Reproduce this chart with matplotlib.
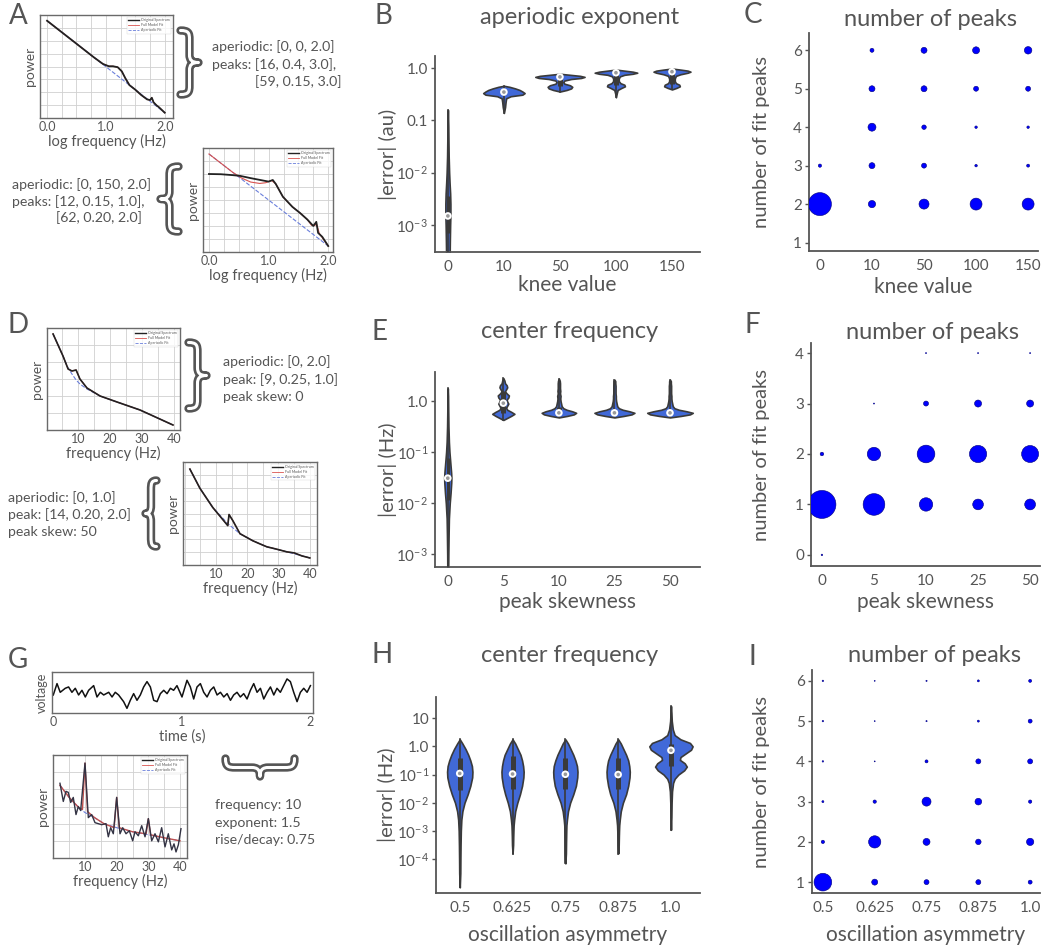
import numpy as np
import matplotlib
matplotlib.use('Agg')
import matplotlib.pyplot as plt
from matplotlib.path import Path
from matplotlib.patches import PathPatch
from matplotlib.lines import Line2D
from matplotlib.ticker import MultipleLocator, NullLocator, LinearLocator

plt.rcParams['font.family'] = ['Lato', 'DejaVu Sans']
plt.rcParams['mathtext.fontset'] = 'custom'
plt.rcParams['mathtext.rm'] = 'Lato'
plt.rcParams['mathtext.it'] = 'Lato:italic'
plt.rcParams['mathtext.bf'] = 'Lato:bold'

# ------------------------------------------------------------------ data
# Panel A: example spectra (log10 frequency, log10 power)
A1_logf = [0.0, 0.2, 0.4, 0.6, 0.8, 0.95, 1.05, 1.12, 1.2, 1.27, 1.33, 1.4, 1.5, 1.6, 1.7, 1.75, 1.78, 1.81, 1.86, 1.9, 2.0]
A1_orig = [0.0, -0.4, -0.8, -1.2, -1.6, -1.88, -1.98, -1.98, -2.02, -2.2, -2.5, -2.8, -3.0, -3.23, -3.42, -3.45, -3.35, -3.55, -3.68, -3.76, -4.0]
A1_ap_f = [0.0, 2.0]
A1_ap = [0.0, -4.0]

A2_logf = [0.0, 0.2, 0.4, 0.52, 0.7, 0.9, 1.0, 1.07, 1.12, 1.24, 1.4, 1.53, 1.65, 1.75, 1.8, 1.83, 1.9, 2.0]
A2_orig = [-0.87, -0.88, -0.92, -0.95, -1.05, -1.15, -1.2, -1.13, -1.3, -1.86, -2.3, -2.57, -2.85, -3.13, -2.95, -3.43, -3.6, -4.0]
A2_fit_f = [0.0, 0.2, 0.4, 0.55, 0.7, 0.85, 0.95, 1.05, 1.12, 1.24, 1.4, 1.53, 1.65, 1.72, 1.78, 1.8, 1.85, 2.0]
A2_fit = [0.0, -0.4, -0.8, -1.05, -1.22, -1.28, -1.25, -1.15, -1.3, -1.86, -2.3, -2.57, -2.85, -3.1, -3.1, -3.0, -3.45, -4.0]
A2_ap_f = [0.0, 2.0]
A2_ap = [0.0, -4.0]

# Panel D: example spectra (frequency Hz, relative log power)
D1_f = [2.2, 5.3, 6.9, 8.1, 9.4, 10.6, 12.8, 16.9, 22.2, 29.4, 39.7]
D1_orig = [0.96, 0.74, 0.61, 0.59, 0.60, 0.51, 0.42, 0.34, 0.28, 0.20, 0.05]
D1_ap = [0.96, 0.74, 0.62, 0.56, 0.50, 0.46, 0.41, 0.34, 0.28, 0.20, 0.05]

D2_f = [1.7, 4.9, 9.0, 13.8, 14.2, 15.4, 17.7, 21.8, 24.0, 26.3, 29.0, 32.7, 35.0, 37.5, 40.0]
D2_orig = [0.95, 0.76, 0.57, 0.39, 0.50, 0.44, 0.31, 0.24, 0.21, 0.18, 0.16, 0.13, 0.12, 0.09, 0.07]
D2_ap_f = [1.7, 4.9, 9.0, 13.8, 17.7, 21.8, 26.3, 32.7, 40.0]
D2_ap = [0.95, 0.76, 0.57, 0.41, 0.31, 0.24, 0.18, 0.13, 0.07]

# Panel G: time series and spectrum
G_t = [0.0, 0.029, 0.054, 0.093, 0.119, 0.145, 0.171, 0.197, 0.223, 0.249, 0.275, 0.314, 0.34, 0.366,
       0.392, 0.431, 0.457, 0.482, 0.508, 0.547, 0.573, 0.599, 0.625, 0.651, 0.677, 0.703, 0.729, 0.755,
       0.781, 0.807, 0.833, 0.859, 0.885, 0.911, 0.936, 0.962, 1.001, 1.04, 1.066, 1.092, 1.118, 1.144,
       1.17, 1.196, 1.222, 1.248, 1.274, 1.3, 1.326, 1.352, 1.378, 1.403, 1.429, 1.455, 1.481, 1.507,
       1.533, 1.559, 1.585, 1.611, 1.637, 1.663, 1.689, 1.715, 1.74, 1.766, 1.792, 1.818, 1.844, 1.87,
       1.896, 1.922, 1.948, 1.974, 2.0]
G_v = [-0.2, 0.65, 0.0, 0.3, 0.4, 0.0, 0.3, -0.2, 0.15, -0.35, 0.15, 0.5, -0.35, 0.0,
       -0.2, 0.0, -0.35, 0.0, -0.2, -0.7, -1.2, -0.6, -0.1, -0.6, -0.2, 0.4, 0.8, 0.4,
       -0.6, -0.7, -0.1, 0.15, -0.1, 0.3, 0.15, 0.5, -0.35, 0.9, 0.4, -0.5, 0.4, 0.65,
       0.0, -0.35, 0.15, 0.4, -0.2, 0.0, -0.35, -0.1, -0.6, -0.2, 0.0, -0.35, -0.1, -0.5,
       0.15, 0.65, 0.0, 0.3, -0.5, 0.0, 0.4, -0.2, 0.3, 0.0, 0.5, 1.0, 0.8, 0.0,
       -0.7, 0.0, 0.3, 0.0, 0.5]

G_f = [2.1, 3.15, 4.0, 4.73, 5.48, 6.3, 7.16, 7.89, 8.63, 10.0, 11.05, 12.1, 13.16, 14.2, 15.26,
       16.63, 17.36, 18.1, 18.94, 20.0, 21.05, 21.9, 22.95, 24.0, 25.05, 25.79, 26.84, 27.9, 28.95,
       30.0, 31.05, 32.1, 33.16, 34.2, 35.26, 36.3, 37.37, 38.1, 38.73, 39.47, 40.3]
G_p = [0.74, 0.56, 0.66, 0.65, 0.55, 0.60, 0.43, 0.51, 0.47, 0.94, 0.40, 0.43, 0.35, 0.34, 0.33,
       0.34, 0.21, 0.30, 0.24, 0.60, 0.24, 0.30, 0.24, 0.27, 0.17, 0.26, 0.22, 0.32, 0.21,
       0.39, 0.17, 0.24, 0.16, 0.30, 0.11, 0.24, 0.08, 0.14, 0.06, 0.13, 0.29]
G_fit_f = [2.1, 5.0, 8.0, 9.2, 10.0, 10.8, 13.0, 16.0, 19.2, 20.0, 20.8, 25.0, 29.3, 30.0, 30.7, 35.0, 40.0]
G_fit = [0.72, 0.60, 0.50, 0.48, 0.94, 0.46, 0.40, 0.34, 0.30, 0.60, 0.30, 0.26, 0.24, 0.39, 0.23, 0.20, 0.17]
G_ap_f = [2.1, 5.0, 8.0, 10.0, 13.0, 16.0, 20.0, 25.0, 30.0, 35.0, 40.0]
G_ap = [0.72, 0.60, 0.50, 0.45, 0.40, 0.34, 0.30, 0.26, 0.23, 0.20, 0.17]

# Panel B: |error| of aperiodic exponent by knee value (violin outlines: log10 value, half width)
B_cats = ['0', '10', '50', '100', '150']
B_logs = [
    [-3.7, -3.3, -3.0, -2.8, -2.6, -2.4, -2.2, -2.0, -1.7, -1.4, -1.1, -0.8],
    [-0.86, -0.75, -0.65, -0.58, -0.54, -0.51, -0.48, -0.45, -0.42, -0.39, -0.36, -0.34],
    [-0.45, -0.42, -0.39, -0.36, -0.33, -0.30, -0.27, -0.24, -0.21, -0.19, -0.17, -0.15, -0.13, -0.11],
    [-0.56, -0.48, -0.42, -0.38, -0.35, -0.32, -0.29, -0.25, -0.2, -0.16, -0.13, -0.11, -0.09, -0.07, -0.05, -0.03],
    [-0.41, -0.38, -0.35, -0.32, -0.29, -0.25, -0.2, -0.15, -0.12, -0.09, -0.07, -0.05, -0.03, -0.01],
]
B_wid = [
    [0.03, 0.035, 0.04, 0.045, 0.045, 0.04, 0.03, 0.022, 0.014, 0.01, 0.007, 0.0],
    [0.0, 0.02, 0.03, 0.04, 0.12, 0.33, 0.37, 0.33, 0.28, 0.2, 0.1, 0.0],
    [0.0, 0.12, 0.2, 0.22, 0.18, 0.08, 0.06, 0.08, 0.2, 0.38, 0.44, 0.36, 0.18, 0.0],
    [0.0, 0.015, 0.03, 0.1, 0.16, 0.15, 0.08, 0.05, 0.05, 0.07, 0.15, 0.3, 0.38, 0.3, 0.15, 0.0],
    [0.0, 0.08, 0.14, 0.13, 0.07, 0.05, 0.05, 0.07, 0.15, 0.28, 0.33, 0.28, 0.15, 0.0],
]
B_box = [(-3.15, -2.44), (-0.49, -0.43), (-0.34, -0.15), (-0.33, -0.08), (-0.31, -0.06)]
B_med = [-2.83, -0.46, -0.17, -0.09, -0.07]

# Panel E: |error| of center frequency by peak skewness
E_cats = ['0', '5', '10', '25', '50']
E_logs = [
    [-3.3, -3.0, -2.6, -2.3, -2.0, -1.8, -1.6, -1.5, -1.4, -1.2, -1.0, -0.8, -0.5, -0.2, 0.1, 0.25],
    [-0.37, -0.33, -0.29, -0.25, -0.21, -0.17, -0.13, -0.09, -0.05, -0.01, 0.03, 0.07, 0.11, 0.15, 0.19, 0.23, 0.27, 0.31, 0.35, 0.40, 0.45],
    [-0.32, -0.29, -0.26, -0.23, -0.20, -0.17, -0.14, -0.10, -0.05, 0.0, 0.05, 0.1, 0.15, 0.2, 0.25, 0.3, 0.35, 0.4, 0.44],
    [-0.32, -0.29, -0.26, -0.23, -0.20, -0.17, -0.14, -0.10, -0.05, 0.0, 0.05, 0.1, 0.15, 0.2, 0.25, 0.3, 0.35, 0.39, 0.42],
    [-0.32, -0.29, -0.26, -0.23, -0.20, -0.17, -0.14, -0.10, -0.05, 0.0, 0.05, 0.1, 0.15, 0.2, 0.25, 0.3, 0.35, 0.39, 0.42],
]
E_wid = [
    [0.008, 0.01, 0.015, 0.02, 0.035, 0.05, 0.062, 0.065, 0.06, 0.045, 0.03, 0.02, 0.012, 0.008, 0.005, 0.0],
    [0.0, 0.07, 0.14, 0.2, 0.14, 0.07, 0.05, 0.07, 0.09, 0.07, 0.06, 0.09, 0.1, 0.06, 0.03, 0.05, 0.07, 0.06, 0.03, 0.02, 0.0],
    [0.0, 0.15, 0.27, 0.31, 0.24, 0.14, 0.08, 0.05, 0.04, 0.03, 0.025, 0.03, 0.02, 0.025, 0.02, 0.02, 0.02, 0.015, 0.0],
    [0.0, 0.17, 0.31, 0.36, 0.27, 0.15, 0.08, 0.05, 0.04, 0.03, 0.025, 0.025, 0.02, 0.02, 0.02, 0.02, 0.015, 0.015, 0.0],
    [0.0, 0.2, 0.36, 0.41, 0.3, 0.16, 0.08, 0.05, 0.04, 0.03, 0.025, 0.025, 0.02, 0.02, 0.02, 0.02, 0.015, 0.015, 0.0],
]
E_box = [(-1.94, -1.12), (-0.24, 0.2), (-0.26, -0.12), (-0.26, -0.16), (-0.26, -0.17)]
E_med = [-1.51, -0.04, -0.23, -0.23, -0.23]

# Panel H: |error| of center frequency by oscillation asymmetry
H_cats = ['0.5', '0.625', '0.75', '0.875', '1.0']
H_logs = [
    [-5.0, -4.5, -4.0, -3.5, -3.0, -2.6, -2.3, -2.0, -1.7, -1.4, -1.1, -0.9, -0.7, -0.5, -0.3, -0.1, 0.1, 0.25],
    [-3.8, -3.5, -3.2, -3.0, -2.8, -2.6, -2.3, -2.0, -1.7, -1.4, -1.1, -0.9, -0.7, -0.5, -0.3, -0.1, 0.1, 0.25],
    [-4.15, -3.8, -3.4, -3.0, -2.8, -2.6, -2.3, -2.0, -1.7, -1.4, -1.1, -0.9, -0.7, -0.5, -0.3, -0.1, 0.1, 0.25],
    [-3.8, -3.5, -3.2, -3.0, -2.8, -2.6, -2.3, -2.0, -1.7, -1.4, -1.1, -0.9, -0.7, -0.5, -0.3, -0.1, 0.1, 0.25],
    [-2.96, -2.5, -2.0, -1.6, -1.3, -1.15, -1.0, -0.85, -0.72, -0.6, -0.48, -0.38, -0.25, -0.12, 0.0, 0.12, 0.25, 0.4, 0.6, 0.9, 1.2, 1.43],
]
H_wid = [
    [0.0, 0.01, 0.012, 0.015, 0.02, 0.03, 0.05, 0.09, 0.15, 0.2, 0.235, 0.24, 0.23, 0.2, 0.16, 0.11, 0.05, 0.0],
    [0.0, 0.01, 0.013, 0.016, 0.02, 0.03, 0.05, 0.09, 0.14, 0.18, 0.205, 0.21, 0.2, 0.18, 0.15, 0.1, 0.05, 0.0],
    [0.0, 0.01, 0.013, 0.017, 0.02, 0.03, 0.05, 0.09, 0.15, 0.2, 0.225, 0.23, 0.22, 0.19, 0.15, 0.1, 0.05, 0.0],
    [0.0, 0.01, 0.013, 0.016, 0.02, 0.03, 0.05, 0.09, 0.15, 0.19, 0.215, 0.22, 0.21, 0.19, 0.15, 0.1, 0.05, 0.0],
    [0.0, 0.008, 0.012, 0.02, 0.04, 0.07, 0.14, 0.25, 0.3, 0.26, 0.17, 0.18, 0.28, 0.38, 0.41, 0.36, 0.18, 0.07, 0.035, 0.015, 0.008, 0.0],
]
H_box = [(-1.54, -0.4), (-1.5, -0.35), (-1.5, -0.4), (-1.5, -0.4), (-0.71, 0.07)]
H_med = [-0.96, -0.98, -0.99, -1.0, -0.14]

# Panels C, F, I: share of simulations with n fitted peaks (dot area)
C_cats = ['0', '10', '50', '100', '150']
C_npeaks = [1, 2, 3, 4, 5, 6]
C_share = [  # rows: knee value, cols: number of peaks 1..6
    [0, 100, 2.0, 0, 0, 0],
    [0, 10, 6.8, 12, 6.8, 3.0],
    [0, 19, 4.7, 3.8, 6.8, 6.8],
    [0, 27, 1.2, 1.2, 4.7, 9.3],
    [0, 27, 1.7, 1.2, 4.7, 10.6],
]
F_cats = ['0', '5', '10', '25', '50']
F_npeaks = [0, 1, 2, 3, 4]
F_share = [
    [0.3, 100, 1.6, 0, 0],
    [0, 60, 23, 0.15, 0],
    [0, 23, 40, 3.2, 0.15],
    [0, 14.6, 38, 6.3, 0.15],
    [0, 15, 37, 6.3, 0.15],
]
I_cats = ['0.5', '0.625', '0.75', '0.875', '1.0']
I_npeaks = [1, 2, 3, 4, 5, 6]
I_share = [
    [100, 3.5, 1.3, 0.7, 0.7, 0.7],
    [11.5, 48, 3.5, 0.3, 0.3, 0.3],
    [8, 15.6, 26, 2.9, 0.5, 0.5],
    [8, 9.7, 14.3, 8, 1.3, 1.3],
    [5, 17, 3.5, 8, 5, 2.9],
]

# ------------------------------------------------------------------ style
GRAY = '#555555'
VIOLIN = '#4169d8'
EDGE = '#3a3a3a'
DOT = '#0000ff'
W, H = 1050, 948

fig = plt.figure(figsize=(10.5, 9.48), dpi=100)
fig.patch.set_facecolor('white')


def ax_px(l, t, r, b):
    return fig.add_axes([l / W, 1 - b / H, (r - l) / W, (b - t) / H])


def ftext(x, y, s, **kw):
    kw.setdefault('color', GRAY)
    kw.setdefault('va', 'center')
    fig.text(x / W, 1 - y / H, s, **kw)


def style_main(ax):
    for s in ['top', 'right']:
        ax.spines[s].set_visible(False)
    for s in ['left', 'bottom']:
        ax.spines[s].set_color(GRAY)
        ax.spines[s].set_linewidth(1.3)
    ax.tick_params(axis='y', length=3, width=1, color=GRAY, labelsize=11, labelcolor=GRAY, pad=2)
    ax.tick_params(axis='x', length=0, labelsize=11, labelcolor=GRAY, pad=6)
    ax.yaxis.set_minor_locator(NullLocator())


def labels(ax, xl, yl, title, t_px, xl_px, yl_px, box):
    l, t, r, b = box
    ax.set_title(title, fontsize=17, color=GRAY, x=(t_px[0] - l) / (r - l), y=(b - t_px[1]) / (b - t),
                 va='center', pad=0)
    ax.set_xlabel(xl, fontsize=15, color=GRAY)
    ax.xaxis.set_label_coords(0.5, -(xl_px - b) / (b - t))
    ax.xaxis.label.set_va('center')
    ax.set_ylabel(yl, fontsize=14.5, color=GRAY)
    ax.yaxis.set_label_coords(-(l - yl_px) / (r - l), 0.5)
    ax.yaxis.label.set_va('center')


def violin(ax, x, logs, widths, box, med):
    y = 10.0 ** np.asarray(logs)
    w = np.asarray(widths)
    boxlw = 3.6 if max(widths) > 0.1 else 2.2
    ax.fill_betweenx(y, x - w, x + w, facecolor=VIOLIN, edgecolor=EDGE, linewidth=1.2, zorder=2)
    ax.plot([x, x], [y[0], y[-1]], color=EDGE, lw=1.2, zorder=3)
    ax.plot([x, x], [10 ** box[0], 10 ** box[1]], color=EDGE, lw=boxlw, solid_capstyle='butt', zorder=3)
    ax.scatter([x], [10 ** med], s=30, facecolor='white', edgecolor='none', zorder=4)
    ax.scatter([x], [10 ** med], s=7, facecolor='#9a9a9a', edgecolor='none', zorder=5)


def violin_panel(box, cats, logs, wid, qbox, med, ylim, yticks, yticklabels, xlim):
    ax = ax_px(*box)
    for i in range(len(cats)):
        violin(ax, i, logs[i], wid[i], qbox[i], med[i])
    ax.set_yscale('log')
    ax.set_ylim(*ylim)
    ax.set_xlim(*xlim)
    ax.set_xticks(range(len(cats)))
    ax.set_xticklabels(cats)
    ax.set_yticks(yticks)
    ax.set_yticklabels(yticklabels)
    style_main(ax)
    return ax


def dot_panel(box, cats, npeaks, share, smax, ylim, xlim):
    ax = ax_px(*box)
    xs, ys, ss = [], [], []
    for i in range(len(cats)):
        for j, n in enumerate(npeaks):
            if share[i][j] > 0:
                xs.append(i)
                ys.append(n)
                ss.append(share[i][j] / 100.0 * smax)
    ax.scatter(xs, ys, s=ss, color=DOT, edgecolor='#00007a', linewidth=0.4, zorder=3)
    ax.set_xticks(range(len(cats)))
    ax.set_xticklabels(cats)
    ax.set_yticks(npeaks)
    ax.set_ylim(*ylim)
    ax.set_xlim(*xlim)
    style_main(ax)
    return ax


def inset(box, xlim, ylim, xticks, xticklabels, xlabel, ylabel, xgrid, ny, grid=True):
    ax = ax_px(*box)
    ax.set_xlim(*xlim)
    ax.set_ylim(*ylim)
    for s in ax.spines.values():
        s.set_color('#6a6a6a')
        s.set_linewidth(1.0)
    ax.set_xticks(xticks)
    ax.set_xticklabels(xticklabels)
    ax.tick_params(axis='x', length=0, labelsize=9, labelcolor=GRAY, pad=2)
    ax.tick_params(axis='y', length=0, labelleft=False)
    if grid:
        ax.xaxis.set_minor_locator(MultipleLocator(xgrid))
        ax.yaxis.set_major_locator(LinearLocator(ny))
        ax.tick_params(axis='both', which='minor', length=0)
        ax.grid(True, which='both', color='#d0d0d0', linewidth=0.6)
    else:
        ax.set_yticks([])
    ax.set_axisbelow(True)
    ax.set_xlabel(xlabel, fontsize=10.5, color=GRAY, labelpad=1)
    ax.set_ylabel(ylabel, fontsize=10, color=GRAY, labelpad=3)
    return ax


def tiny_legend(ax):
    h = [Line2D([], [], color='#222222', lw=1.0),
         Line2D([], [], color='#d9534f', lw=0.6),
         Line2D([], [], color='#6a7fdb', lw=0.6, ls='--')]
    leg = ax.legend(h, ['Original Spectrum', 'Full Model Fit', 'Aperiodic Fit'], loc='upper right',
                    fontsize=2.6, frameon=True, handlelength=3, borderpad=0.4, labelspacing=0.25,
                    handletextpad=0.6, fancybox=False)
    leg.get_frame().set_edgecolor('#cccccc')
    leg.get_frame().set_linewidth(0.3)
    for t in leg.get_texts():
        t.set_color('#555555')


def brace(x0, y0, x1, y1, orient):
    uv = [(0, 0), (0.45, 0), (0.5, 0.04), (0.5, 0.14), (0.5, 0.38), (0.5, 0.46), (0.62, 0.5), (1.0, 0.5),
          (0.62, 0.5), (0.5, 0.54), (0.5, 0.62), (0.5, 0.86), (0.5, 0.96), (0.45, 1.0), (0, 1.0)]
    codes = [Path.MOVETO] + [Path.CURVE4] * 3 + [Path.LINETO] + [Path.CURVE4] * 6 + [Path.LINETO] + [Path.CURVE4] * 3
    verts = []
    for u, v in uv:
        if orient == 'right':
            X, Y = x0 + u * (x1 - x0), y0 + v * (y1 - y0)
        elif orient == 'left':
            X, Y = x1 - u * (x1 - x0), y0 + v * (y1 - y0)
        else:  # down
            X, Y = x0 + v * (x1 - x0), y0 + u * (y1 - y0)
        verts.append((X / W, 1 - Y / H))
    p = Path(verts, codes)
    for col, lw in [(GRAY, 6.0), ('white', 2.2)]:
        fig.add_artist(PathPatch(p, transform=fig.transFigure, fill=False, edgecolor=col, lw=lw,
                                 capstyle='round', joinstyle='round'))


# ------------------------------------------------------------------ panel A
ax = inset((40, 15, 173, 118), (-0.12, 2.14), (-4.23, 0.25), [0, 1, 2], ['0.0', '1.0', '2.0'],
           'log frequency (Hz)', 'power', 0.25, 9)
ax.plot(A1_ap_f, A1_ap, color='#6a7fdb', lw=0.8, ls='--', zorder=2)
ax.plot(A1_logf, A1_orig, color='#d9534f', lw=0.8, zorder=2)
ax.plot(A1_logf, A1_orig, color='#222222', lw=1.3, zorder=3)
tiny_legend(ax)

ax = inset((203, 148, 333, 252), (-0.1, 2.08), (-4.26, 0.26), [0, 1, 2], ['0.0', '1.0', '2.0'],
           'log frequency (Hz)', 'power', 0.25, 9)
ax.plot(A2_ap_f, A2_ap, color='#6a7fdb', lw=0.8, ls='--', zorder=2)
ax.plot(A2_fit_f, A2_fit, color='#d9534f', lw=0.8, zorder=2)
ax.plot(A2_logf, A2_orig, color='#222222', lw=1.3, zorder=3)
tiny_legend(ax)

brace(180.5, 30.5, 198.5, 94.5, 'right')
brace(160.5, 166.5, 178.5, 231.5, 'left')
TXT = 10.2
ftext(212, 47, 'aperiodic: [0, 0, 2.0]', fontsize=TXT)
ftext(212, 65, 'peaks: [16, 0.4, 3.0],', fontsize=TXT)
ftext(255, 82, '[59, 0.15, 3.0]', fontsize=TXT)
ftext(12, 185, 'aperiodic: [0, 150, 2.0]', fontsize=TXT)
ftext(12, 202, 'peaks: [12, 0.15, 1.0],', fontsize=TXT)
ftext(56, 218, '[62, 0.20, 2.0]', fontsize=TXT)

# ------------------------------------------------------------------ panel D
ax = inset((47, 328, 180, 430), (0.3, 41.9), (0, 1.02), [10, 20, 30, 40], ['10', '20', '30', '40'],
           'frequency (Hz)', 'power', 5, 7)
ax.plot(D1_f, D1_ap, color='#6a7fdb', lw=0.8, ls='--', zorder=2)
ax.plot(D1_f, D1_orig, color='#d9534f', lw=0.8, zorder=2)
ax.plot(D1_f, D1_orig, color='#222222', lw=1.2, zorder=3)
tiny_legend(ax)

ax = inset((183, 462, 317, 565), (-0.5, 42.3), (0, 1.02), [10, 20, 30, 40], ['10', '20', '30', '40'],
           'frequency (Hz)', 'power', 5, 9)
ax.plot(D2_ap_f, D2_ap, color='#6a7fdb', lw=0.8, ls='--', zorder=2)
ax.plot(D2_f, D2_orig, color='#d9534f', lw=0.8, zorder=2)
ax.plot(D2_f, D2_orig, color='#222222', lw=1.2, zorder=3)
tiny_legend(ax)

brace(188.5, 342.5, 206.5, 408.5, 'right')
brace(145.5, 480.5, 156.5, 546.5, 'left')
ftext(223, 362, 'aperiodic: [0, 2.0]', fontsize=TXT)
ftext(223, 380, 'peak: [9, 0.25, 1.0]', fontsize=TXT)
ftext(223, 397, 'peak skew: 0', fontsize=TXT)
ftext(8, 498, 'aperiodic: [0, 1.0]', fontsize=TXT)
ftext(8, 515, 'peak: [14, 0.20, 2.0]', fontsize=TXT)
ftext(8, 532, 'peak skew: 50', fontsize=TXT)

# ------------------------------------------------------------------ panel G
ax = inset((52, 672, 313, 713), (-0.01, 2.02), (-1.55, 1.52), [0, 1, 2], ['0', '1', '2'],
           'time (s)', 'voltage', 1, 2, grid=False)
ax.plot(G_t, G_v, color='#111111', lw=1.1)
ax.yaxis.label.set_fontsize(9)

ax = inset((53, 755, 187, 858), (-0.1, 42.2), (0, 1.02), [10, 20, 30, 40], ['10', '20', '30', '40'],
           'frequency (Hz)', 'power', 5, 7)
ax.plot(G_ap_f, G_ap, color='#6a7fdb', lw=0.8, ls='--', zorder=2)
ax.plot(G_fit_f, G_fit, color='#c0504d', lw=1.0, zorder=2)
ax.plot(G_f, G_p, color='#333344', lw=1.0, zorder=3)
tiny_legend(ax)

brace(225.5, 758.5, 294.5, 776.5, 'down')
ftext(215, 805, 'frequency: 10', fontsize=TXT)
ftext(215, 823, 'exponent: 1.5', fontsize=TXT)
ftext(215, 840, 'rise/decay: 0.75', fontsize=TXT)

# ------------------------------------------------------------------ violin panels
boxB = (435, 56, 700, 252)
ax = violin_panel(boxB, B_cats, B_logs, B_wid, B_box, B_med, (10 ** -3.52, 10 ** 0.23),
                  [1e-3, 1e-2, 1e-1, 1.0], ['$10^{-3}$', '$10^{-2}$', '0.1', '1.0'], (-0.23, 4.5))
labels(ax, 'knee value', '|error| (au)', 'aperiodic exponent', (580, 18), 285, 388, boxB)

boxE = (435, 372, 700, 567)
ax = violin_panel(boxE, E_cats, E_logs, E_wid, E_box, E_med, (10 ** -3.25, 10 ** 0.57),
                  [1e-3, 1e-2, 1e-1, 1.0], ['$10^{-3}$', '$10^{-2}$', '$10^{-1}$', '1.0'], (-0.23, 4.54))
labels(ax, 'peak skewness', '|error| (Hz)', 'center frequency', (570, 332), 602, 388, boxE)

boxH = (436, 697, 700, 893)
ax = violin_panel(boxH, H_cats, H_logs, H_wid, H_box, H_med, (10 ** -5.2, 10 ** 1.75),
                  [1e-4, 1e-3, 1e-2, 1e-1, 1.0, 10.0],
                  ['$10^{-4}$', '$10^{-3}$', '$10^{-2}$', '$10^{-1}$', '1.0', '10'], (-0.45, 4.55))
labels(ax, 'oscillation asymmetry', '|error| (Hz)', 'center frequency', (570, 655), 935, 387, boxH)

# ------------------------------------------------------------------ dot panels
boxC = (809, 33, 1038, 251)
ax = dot_panel(boxC, C_cats, C_npeaks, C_share, 274, (0.78, 6.45), (-0.21, 4.19))
labels(ax, 'knee value', 'number of fit peaks', 'number of peaks', (930, 20), 287, 762, boxC)

boxF = (811, 343, 1040, 566)
ax = dot_panel(boxF, F_cats, F_npeaks, F_share, 406, (-0.22, 4.2), (-0.21, 4.19))
labels(ax, 'peak skewness', 'number of fit peaks', 'number of peaks', (932, 332), 602, 762, boxF)

boxI = (812, 670, 1040, 893)
ax = dot_panel(boxI, I_cats, I_npeaks, I_share, 162, (0.73, 6.27), (-0.21, 4.19))
labels(ax, 'oscillation asymmetry', 'number of fit peaks', 'number of peaks', (934, 655), 935, 762, boxI)

# ------------------------------------------------------------------ panel letters
for letter, (x, y) in {'A': (18, 16), 'B': (383, 16), 'C': (753, 15), 'D': (18, 325), 'E': (380, 332),
                       'F': (752, 325), 'G': (18, 660), 'H': (382, 655), 'I': (752, 657)}.items():
    ftext(x, y, letter, fontsize=20, ha='center')

fig.savefig('out.png', dpi=100, facecolor='white')
